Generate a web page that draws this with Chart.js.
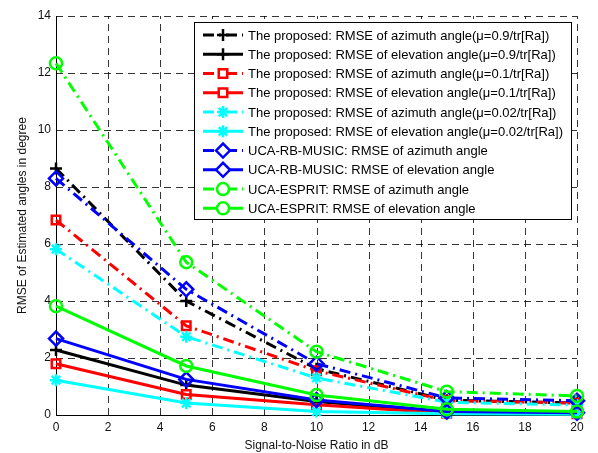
<!DOCTYPE html>
<html>
<head>
<meta charset="utf-8">
<script src="https://cdn.jsdelivr.net/npm/chart.js@4/dist/chart.umd.min.js"></script>
<style>
  html, body { margin: 0; padding: 0; background: #fff; }
  #wrap { position: relative; width: 598px; height: 453px; }
</style>
</head>
<body>
<div id="wrap"><canvas id="c" width="598" height="453"></canvas></div>
<script>
// SNR points (dB) and RMSE values
const snr = [0, 5, 10, 15, 20];
const az09 = [8.65, 4.0, 1.62, 0.52, 0.42];
const el09 = [2.28, 1.05, 0.47, 0.10, 0.06];
const az01 = [6.84, 3.13, 1.55, 0.50, 0.42];
const el01 = [1.80, 0.72, 0.36, 0.06, 0.04];
const az002 = [5.82, 2.75, 1.30, 0.45, 0.35];
const el002 = [1.22, 0.42, 0.12, 0.04, 0.03];
const musicAz = [8.30, 4.41, 1.80, 0.60, 0.50];
const musicEl = [2.68, 1.25, 0.53, 0.12, 0.08];
const espritAz = [12.34, 5.36, 2.22, 0.82, 0.67];
const espritEl = [3.82, 1.72, 0.70, 0.20, 0.12];

const labels = [
  'The proposed: RMSE of azimuth angle(\u03bc=0.9/tr[Ra])',
  'The proposed: RMSE of elevation angle(\u03bc=0.9/tr[Ra])',
  'The proposed: RMSE of azimuth angle(\u03bc=0.1/tr[Ra])',
  'The proposed: RMSE of elevation angle(\u03bc=0.1/tr[Ra])',
  'The proposed: RMSE of azimuth angle(\u03bc=0.02/tr[Ra])',
  'The proposed: RMSE of elevation angle(\u03bc=0.02/tr[Ra])',
  'UCA-RB-MUSIC: RMSE of azimuth angle',
  'UCA-RB-MUSIC: RMSE of elevation angle',
  'UCA-ESPRIT: RMSE of azimuth angle',
  'UCA-ESPRIT: RMSE of elevation angle',
];
const xTicks = [0, 2, 4, 6, 8, 10, 12, 14, 16, 18, 20];
const yTicks = [0, 2, 4, 6, 8, 10, 12, 14];

const FONT = '"Liberation Sans", Arial, sans-serif';
const DASHDOT = [11, 5, 2, 5];

function series(i, values, color, marker, dashed, radius) {
  return {
    label: labels[i],
    data: snr.map((x, k) => ({ x, y: values[k] })),
    borderColor: color,
    borderWidth: 3,
    borderDash: dashed ? DASHDOT : [],
    pointStyle: marker,
    pointRadius: radius || 6,
    pointBorderColor: color,
    pointBackgroundColor: 'rgba(0,0,0,0)',
    pointBorderWidth: 2.5,
    tension: 0,
    clip: false,
    order: 20 - i,   // later series on top, like MATLAB
  };
}

const datasets = [
  series(0, az09, '#000000', 'cross', true, 6),
  series(1, el09, '#000000', 'cross', false, 6),
  series(2, az01, '#ff0000', 'rect', true, 6),
  series(3, el01, '#ff0000', 'rect', false, 6),
  series(4, az002, '#00ffff', 'star', true, 6),
  series(5, el002, '#00ffff', 'star', false, 6),
  series(6, musicAz, '#0000ff', 'rectRot', true, 7),
  series(7, musicEl, '#0000ff', 'rectRot', false, 7),
  series(8, espritAz, '#00ff00', 'circle', true, 6),
  series(9, espritEl, '#00ff00', 'circle', false, 6),
];

// MATLAB-style dashed grid + solid left/bottom axes
const dashedGrid = {
  id: 'dashedGrid',
  beforeDatasetsDraw(chart) {
    const { ctx, chartArea: a, scales: { x, y } } = chart;
    ctx.save();
    ctx.strokeStyle = '#000';
    ctx.lineWidth = 0.8;
    ctx.setLineDash([7, 5]);
    xTicks.forEach((v) => {
      const px = Math.round(x.getPixelForValue(v)) + 0.5;
      ctx.beginPath(); ctx.moveTo(px, a.bottom); ctx.lineTo(px, a.top); ctx.stroke();
    });
    yTicks.forEach((v) => {
      const py = Math.round(y.getPixelForValue(v)) + 0.5;
      ctx.beginPath(); ctx.moveTo(a.left, py); ctx.lineTo(a.right, py); ctx.stroke();
    });
    ctx.setLineDash([]);
    ctx.lineWidth = 1;
    ctx.beginPath();
    ctx.moveTo(Math.round(a.left) + 0.5, a.top);
    ctx.lineTo(Math.round(a.left) + 0.5, Math.round(a.bottom) + 0.5);
    ctx.lineTo(a.right, Math.round(a.bottom) + 0.5);
    ctx.stroke();
    ctx.restore();
  },
};

// Boxed legend in the top-right corner of the plot area
const boxLegend = {
  id: 'boxLegend',
  afterDraw(chart) {
    const ctx = chart.ctx;
    const x0 = 194, y0 = 22, x1 = 571, y1 = 219;
    ctx.save();
    ctx.fillStyle = '#fff';
    ctx.fillRect(x0, y0, x1 - x0, y1 - y0);
    ctx.strokeStyle = '#000';
    ctx.lineWidth = 1;
    ctx.setLineDash([]);
    ctx.strokeRect(x0 + 0.5, y0 + 0.5, x1 - x0, y1 - y0);
    const rowH = 19.26;
    ctx.font = '13px ' + FONT;
    ctx.textBaseline = 'middle';
    chart.data.datasets.forEach((ds, i) => {
      const cy = y0 + 13 + i * rowH;
      ctx.strokeStyle = ds.borderColor;
      ctx.lineWidth = ds.borderWidth;
      ctx.setLineDash(ds.borderDash);
      ctx.beginPath();
      ctx.moveTo(203, cy);
      ctx.lineTo(243, cy);
      ctx.stroke();
      ctx.setLineDash([]);
      ctx.fillStyle = '#fff';
      ctx.lineWidth = ds.pointBorderWidth;
      Chart.helpers.drawPoint(ctx, {
        pointStyle: ds.pointStyle, radius: ds.pointRadius, borderWidth: ds.pointBorderWidth, rotation: 0,
      }, 223, cy);
      ctx.fillStyle = '#000';
      ctx.fillText(ds.label, 248, cy + 1);
    });
    ctx.restore();
  },
};

new Chart(document.getElementById('c'), {
  type: 'line',
  data: { datasets },
  plugins: [dashedGrid, boxLegend],
  options: {
    responsive: false,
    animation: false,
    layout: { padding: { left: 0, right: 21, top: 16, bottom: 0 } },
    plugins: { legend: { display: false }, tooltip: { enabled: false } },
    scales: {
      x: {
        type: 'linear', min: 0, max: 20,
        afterBuildTicks: (s) => { s.ticks = xTicks.map((v) => ({ value: v })); },
        afterFit: (s) => { s.height = 38; },
        grid: { display: false, drawTicks: false },
        border: { display: false },
        ticks: { color: '#111', font: { family: FONT, size: 12 }, padding: 5, maxRotation: 0 },
        title: { display: true, text: 'Signal-to-Noise Ratio in dB', color: '#111', font: { family: FONT, size: 12 }, padding: { top: 2, bottom: 0 } },
      },
      y: {
        type: 'linear', min: 0, max: 14,
        afterBuildTicks: (s) => { s.ticks = yTicks.map((v) => ({ value: v })); },
        afterFit: (s) => { s.width = 56; },
        grid: { display: false, drawTicks: false },
        border: { display: false },
        ticks: { color: '#111', font: { family: FONT, size: 12 }, padding: 5 },
        title: { display: true, text: 'RMSE of Estimated angles in degree', color: '#111', font: { family: FONT, size: 12 }, padding: { top: 15, bottom: 4 } },
      },
    },
  },
});
</script>
</body>
</html>
